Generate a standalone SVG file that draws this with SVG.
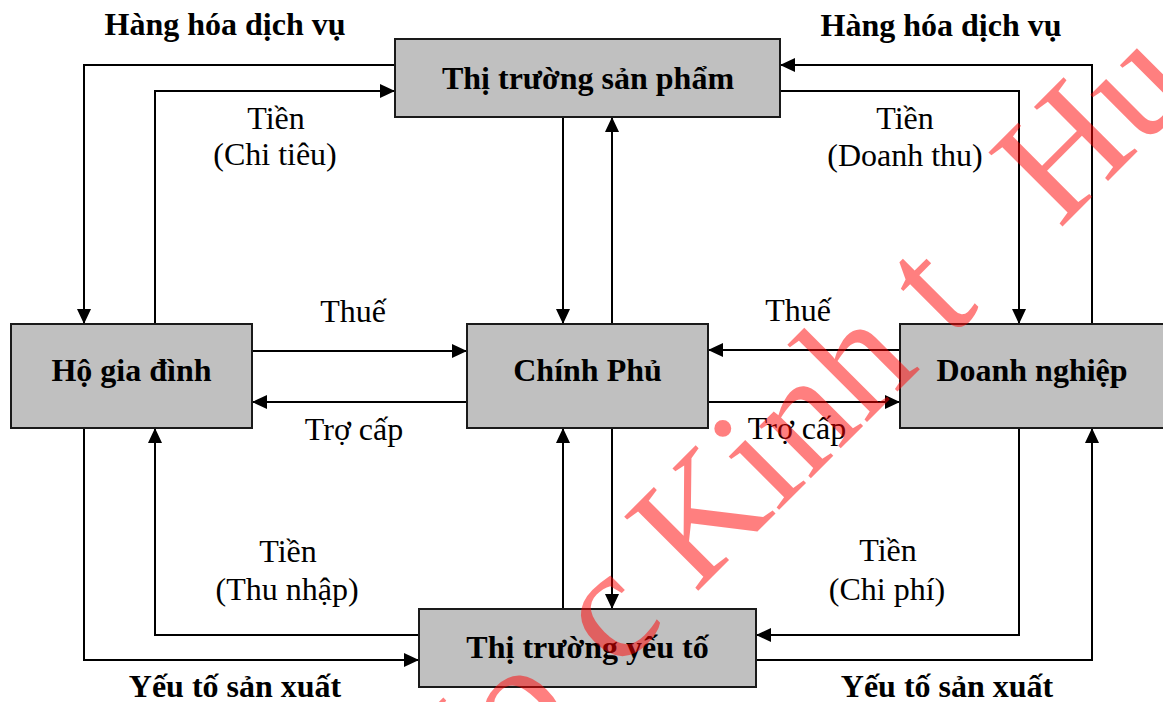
<svg xmlns="http://www.w3.org/2000/svg" width="1163" height="702" viewBox="0 0 1163 702">
<style>
.box{fill:#c0c0c0;stroke:#1a1a1a;stroke-width:2}
.bt{font-family:"Liberation Serif","Times New Roman",serif;font-weight:bold;font-size:32px;text-anchor:middle;fill:#000}
.rt{font-family:"Liberation Serif","Times New Roman",serif;font-size:32px;text-anchor:middle;fill:#000}
.ln{fill:none;stroke:#000;stroke-width:2}
.wm{font-family:"Liberation Serif","Times New Roman",serif;font-size:160px;fill:#ff0000;fill-opacity:0.5}
</style>
<defs>
<marker id="ah" viewBox="0 0 15 14" refX="15" refY="7" markerWidth="15" markerHeight="14" orient="auto" markerUnits="userSpaceOnUse">
<path d="M0,0 L15,7 L0,14 z" fill="#000"/>
</marker>
</defs>
<rect width="1163" height="702" fill="#fff"/>
<g id="connectors">
<path class="ln" d="M395,65 H84 V324" marker-end="url(#ah)"/>
<path class="ln" d="M155,324 V91 H395" marker-end="url(#ah)"/>
<path class="ln" d="M1092,324 V65 H780" marker-end="url(#ah)"/>
<path class="ln" d="M780,91 H1019 V324" marker-end="url(#ah)"/>
<path class="ln" d="M563,117 V324" marker-end="url(#ah)"/>
<path class="ln" d="M612,324 V117" marker-end="url(#ah)"/>
<path class="ln" d="M252,351 H467" marker-end="url(#ah)"/>
<path class="ln" d="M467,402 H252" marker-end="url(#ah)"/>
<path class="ln" d="M900,350 H708" marker-end="url(#ah)"/>
<path class="ln" d="M708,402 H900" marker-end="url(#ah)"/>
<path class="ln" d="M563,609 V428" marker-end="url(#ah)"/>
<path class="ln" d="M612,428 V609" marker-end="url(#ah)"/>
<path class="ln" d="M419,635 H155 V428" marker-end="url(#ah)"/>
<path class="ln" d="M84,428 V660 H419" marker-end="url(#ah)"/>
<path class="ln" d="M1019,428 V635 H756" marker-end="url(#ah)"/>
<path class="ln" d="M756,660 H1092 V428" marker-end="url(#ah)"/>
<text class="bt" x="225" y="35">Hàng hóa dịch vụ</text>
<text class="bt" x="941" y="36">Hàng hóa dịch vụ</text>
<text class="rt" x="276" y="129">Tiền</text>
<text class="rt" x="275" y="165">(Chi tiêu)</text>
<text class="rt" x="905" y="129">Tiền</text>
<text class="rt" x="905" y="166">(Doanh thu)</text>
<text class="rt" x="353" y="322">Thuế</text>
<text class="rt" x="354" y="440">Trợ cấp</text>
<text class="rt" x="798" y="321">Thuế</text>
<text class="rt" x="797" y="439">Trợ cấp</text>
<text class="rt" x="288" y="562">Tiền</text>
<text class="rt" x="287" y="600">(Thu nhập)</text>
<text class="rt" x="888" y="561">Tiền</text>
<text class="rt" x="887" y="600">(Chi phí)</text>
<text class="bt" x="235" y="697">Yếu tố sản xuất</text>
<text class="bt" x="947" y="697">Yếu tố sản xuất</text>
</g>
<g id="product-market">
<rect class="box" x="395" y="39" width="385" height="78"/>
<text class="bt" x="588" y="89">Thị trường sản phẩm</text>
</g>
<g id="household">
<rect class="box" x="11" y="324" width="241" height="104"/>
<text class="bt" x="131.5" y="381">Hộ gia đình</text>
</g>
<g id="government">
<rect class="box" x="467" y="324" width="241" height="104"/>
<text class="bt" x="587.5" y="381">Chính Phủ</text>
</g>
<g id="firm">
<rect class="box" x="900" y="324" width="280" height="104"/>
<text class="bt" x="1032" y="381">Doanh nghiệp</text>
</g>
<g id="factor-market">
<rect class="box" x="419" y="609" width="337" height="78"/>
<text class="bt" x="587.5" y="658">Thị trường yếu tố</text>
</g>
<g id="watermark" transform="translate(695,594) rotate(-45)">
<text class="wm" x="-362" y="0">Ho<tspan x="-111">c Kinh t</tspan><tspan x="515">Hu</tspan></text>
</g>
</svg>
